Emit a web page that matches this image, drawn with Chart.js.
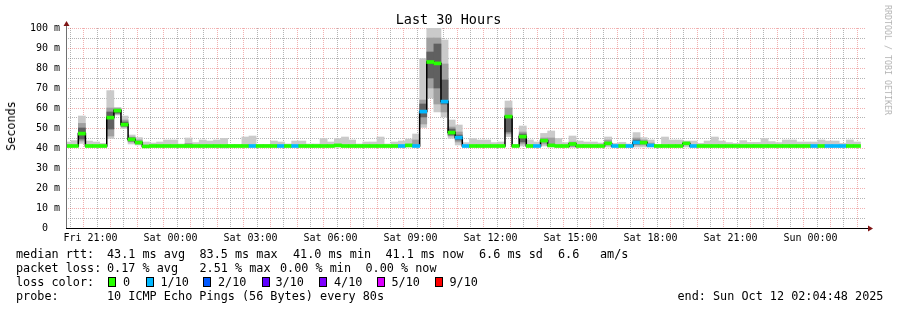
<!DOCTYPE html>
<html>
<head>
<meta charset="utf-8">
<script src="https://cdn.jsdelivr.net/npm/chart.js@4.4.1/dist/chart.umd.min.js"></script>
<style>
  body { margin: 0; background: #fff; }
  #wrap { position: relative; width: 897px; height: 310px; overflow: hidden; font-family: "DejaVu Sans Mono", monospace; color: #000; }
  #chart { position: absolute; left: 0; top: 0; }
  .t { position: absolute; white-space: pre; font-size: 11.8px; line-height: 14px; }
  .box { position: absolute; width: 8px; height: 10px; box-sizing: border-box; border: 1px solid #000; }
</style>
</head>
<body>
<div id="wrap">
  <canvas id="chart" width="897" height="310"></canvas>
  <div class="t" style="left:0;top:12px;width:897px;text-align:center;font-size:13.5px;">Last 30 Hours</div>
  <div class="t" style="left:11px;top:126px;transform:translate(-50%,-50%) rotate(-90deg);">Seconds</div>
  <div class="t" style="left:888px;top:60px;transform:translate(-50%,-50%) rotate(90deg);font-size:8.3px;color:#b4b4b4;">RRDTOOL / TOBI OETIKER</div>
  <div id="legend"></div>
</div>
<script>
// 16 分钟一个统计桶，时间以 Fri 21:00 为 0（分钟）
const binStart = -59.5;
const binMinutes = 16;
const axisStart = -55.2;
const axisEnd = 1744.8;

// 中位数 rtt (ms)
const medianRtt = [
  41, 41, 47.2, 41, 41, 41, 55.2, 58.7, 51.7, 44.3,
  42.7, 40.8, 41, 41, 41, 41, 41, 41, 41, 41,
  41, 41, 41, 41, 41, 41, 41, 41, 41, 41,
  41, 41, 41, 41, 41, 41, 41, 41, 41.3, 41,
  41, 41, 41, 41, 41, 41, 41, 41, 41.3, 41,
  58.2, 83, 82.3, 63.2, 47.7, 45.2, 41, 41, 41, 41,
  41, 41, 55.7, 41, 45.7, 41, 41, 43.7, 41.3, 41,
  41, 42, 41, 41, 41, 41, 42.3, 41, 41, 41,
  42.8, 42.7, 41.3, 41, 41, 41, 41, 42.3, 41, 41,
  41, 41, 41, 41, 41, 41, 41, 41, 41, 41,
  41, 41, 41, 41, 41, 41, 41, 41, 41, 41, 41, 41
];
// 丢包等级 (0 = 0, 1 = 1/10)
const lossLevel = [
  0, 0, 0, 0, 0, 0, 0, 0, 0, 0,
  0, 0, 0, 0, 0, 0, 0, 0, 0, 0,
  0, 0, 0, 0, 0, 0, 1, 0, 0, 0,
  1, 0, 1, 0, 0, 0, 0, 0, 0, 0,
  0, 0, 0, 0, 0, 0, 0, 1, 0, 1,
  1, 0, 0, 1, 0, 1, 1, 0, 0, 0,
  0, 0, 0, 0, 0, 0, 1, 0, 0, 0,
  0, 0, 0, 0, 0, 0, 0, 1, 0, 1,
  1, 0, 1, 0, 0, 0, 0, 0, 1, 0,
  0, 0, 0, 0, 0, 0, 0, 0, 0, 0,
  0, 0, 0, 0, 0, 1, 0, 1, 1, 1, 0, 0
];
// smoke 最大 / 最小值 (ms)
const smokeMax = [
  43, 43.7, 56, 43.5, 43, 42.3, 68.7, 60.3, 56, 46.5,
  45.2, 43, 42.5, 43, 44, 44, 42, 45, 42.7, 44,
  43.5, 44, 44.8, 41.8, 41.8, 45.5, 46, 41.8, 41.8, 43.5,
  43, 42, 43.5, 43.5, 42, 42, 44.7, 43, 44.7, 45.5,
  44, 42, 43, 43, 45.5, 42, 43, 43.5, 44.5, 47,
  84.7, 100, 100, 94, 54, 51.5, 42.7, 44.7, 44, 44,
  42.7, 43, 63.5, 41.8, 51, 44, 43, 47.3, 48.5, 44.8,
  42.7, 46, 43.5, 43, 43, 42.5, 45.5, 42.3, 42.8, 42,
  47.7, 45.2, 44, 41.8, 45.5, 44, 44, 43.5, 43.5, 42.3,
  43.5, 45.5, 43.5, 42.7, 42.3, 43.7, 42.8, 42.8, 44.7, 43.2,
  42.7, 44, 44, 43, 43, 43, 44, 43.5, 43.5, 42.3, 44, 43
];
const smokeMin = [
  40.5, 40.5, 42.3, 40.5, 40.5, 40.5, 44.8, 56.5, 49.8, 42,
  41.5, 40.5, 40.5, 40.5, 40.5, 40.5, 40.5, 40.5, 40.5, 40.5,
  40.5, 40.5, 40, 40.5, 40.5, 40.5, 40.5, 40.5, 40.5, 40.5,
  40.5, 40.5, 40.5, 40.5, 40.5, 40.5, 40.5, 40.5, 40.5, 40.5,
  40.5, 40.5, 40.5, 40.5, 40.5, 40.5, 40.5, 40.5, 40.5, 40.5,
  50.3, 65, 58, 55.5, 44.8, 41.5, 40.5, 40.5, 40.5, 40.5,
  40.5, 40.5, 45.7, 40.5, 41, 40.5, 40.5, 41, 40.5, 40.5,
  40.5, 40.5, 40.5, 40.5, 40.5, 40.5, 40.5, 40.5, 40.5, 40.5,
  40.5, 40.5, 40.5, 40.5, 40.5, 40.5, 40.5, 40.5, 40.5, 40.5,
  40.5, 40.5, 40.5, 40.5, 40.5, 40.5, 40.5, 40.5, 40.5, 40.5,
  40.5, 40.5, 40.5, 40.5, 40.5, 40.5, 40.5, 40.5, 40.5, 40.5, 40.5, 40.5
];
// 较深的 smoke 区间: [桶序号, 下限, 上限]
const midBands = [
  [2, 43.5, 52.3], [6, 46, 60], [7, 57, 59.8], [8, 50.5, 54], [9, 43, 45.5], [10, 42, 44],
  [17, 40.5, 42.3], [49, 41, 44], [50, 52, 64], [51, 70, 95], [52, 62, 95], [53, 58, 82],
  [54, 46, 50.5], [55, 43, 48], [62, 47, 60], [64, 42, 48], [67, 42, 45], [68, 41, 45],
  [71, 40.5, 43], [76, 41.5, 44], [80, 41.5, 45], [81, 41.5, 44], [82, 41, 42.5]
];
const darkBands = [
  [2, 44.5, 50], [6, 49.5, 58], [7, 57.5, 59.3], [8, 51, 53], [9, 43.5, 45],
  [50, 55.5, 62], [51, 75, 88], [52, 70, 92], [53, 62, 74], [54, 46.5, 49.5],
  [55, 44, 46.5], [62, 48, 56], [64, 43, 47], [80, 42, 44]
];
const lossColors = ['#26ff00', '#00b8ff', '#0059ff', '#5e00ff', '#7e00ff', '#dd00ff', '#ff0000'];
const lossNames = ['0', '1/10', '2/10', '3/10', '4/10', '5/10', '9/10'];
const xTickMinutes = [0, 180, 360, 540, 720, 900, 1080, 1260, 1440, 1620];
const xTickLabels = ['Fri 21:00', 'Sat 00:00', 'Sat 03:00', 'Sat 06:00', 'Sat 09:00', 'Sat 12:00', 'Sat 15:00', 'Sat 18:00', 'Sat 21:00', 'Sun 00:00'];

const binTimes = medianRtt.map((_, i) => binStart + (i + 0.5) * binMinutes);
const bandData = list => list.map(b => ({ x: binTimes[b[0]], y: [b[1], b[2]] }));
const monoFont = { family: 'DejaVu Sans Mono', size: 10 };
const minorGrid = 'rgba(130,130,130,0.6)';
const majorGrid = 'rgba(224,80,80,0.45)';
const gridColor = every => c => (c.tick && Math.abs(c.tick.value % every) < 1e-6 ? majorGrid : minorGrid);

const barBase = { type: 'bar', grouped: false, barPercentage: 1, categoryPercentage: 1, borderWidth: 0, clip: 0 };

const axisArrows = {
  id: 'axisArrows',
  afterDatasetsDraw(chart) {
    const { ctx, chartArea: a } = chart;
    const x0 = a.left + 0.5, y0 = a.bottom + 0.5;
    ctx.save();
    ctx.lineWidth = 1;
    ctx.strokeStyle = '#707070';
    ctx.beginPath(); ctx.moveTo(x0, a.bottom); ctx.lineTo(x0, a.top - 5); ctx.stroke();
    ctx.strokeStyle = '#000';
    ctx.beginPath(); ctx.moveTo(a.left, y0); ctx.lineTo(a.right + 4, y0); ctx.stroke();
    ctx.fillStyle = '#7f1515';
    ctx.beginPath(); ctx.moveTo(x0 - 3, a.top - 2); ctx.lineTo(x0 + 3, a.top - 2); ctx.lineTo(x0, a.top - 7); ctx.closePath(); ctx.fill();
    ctx.beginPath(); ctx.moveTo(a.right + 2, y0 - 3); ctx.lineTo(a.right + 2, y0 + 3); ctx.lineTo(a.right + 7, y0); ctx.closePath(); ctx.fill();
    ctx.restore();
  }
};

new Chart(document.getElementById('chart'), {
  type: 'bar',
  data: {
    datasets: [
      Object.assign({}, barBase, {
        order: 0,
        data: medianRtt.map((m, i) => ({ x: binTimes[i], y: [m - 0.75, m + 0.75] })),
        backgroundColor: lossLevel.map(l => lossColors[l])
      }),
      {
        type: 'line', order: 1, clip: 0,
        data: medianRtt.map((m, i) => ({ x: binTimes[i], y: m })),
        stepped: 'middle', borderColor: '#000', borderWidth: 1.5, pointRadius: 0
      },
      Object.assign({}, barBase, { order: 2, data: bandData(darkBands), backgroundColor: '#606060' }),
      Object.assign({}, barBase, { order: 3, data: bandData(midBands), backgroundColor: '#a0a0a0' }),
      Object.assign({}, barBase, {
        order: 4,
        data: smokeMax.map((h, i) => ({ x: binTimes[i], y: [smokeMin[i], h] })),
        backgroundColor: '#cacaca'
      })
    ]
  },
  options: {
    responsive: false,
    devicePixelRatio: 1,
    animation: false,
    layout: { padding: { left: 0, top: 28, right: 31, bottom: 0 } },
    plugins: { legend: { display: false }, tooltip: { enabled: false } },
    scales: {
      x: {
        type: 'linear', min: axisStart, max: axisEnd, offset: false,
        afterBuildTicks: s => {
          const t = [];
          for (let m = Math.ceil(s.min / 30) * 30; m <= s.max; m += 30) t.push({ value: m });
          s.ticks = t;
        },
        afterFit: s => { s.height = 82; },
        grid: { drawTicks: false, color: gridColor(60) },
        border: { display: false, dash: [1, 1] },
        ticks: {
          autoSkip: false, maxRotation: 0, padding: 4, color: '#000', font: monoFont,
          callback: v => { const k = xTickMinutes.indexOf(v); return k >= 0 ? xTickLabels[k] : ''; }
        }
      },
      y: {
        min: 0, max: 100,
        afterFit: s => { s.width = 66; },
        grid: { drawTicks: false, color: gridColor(10) },
        border: { display: false, dash: [1, 1] },
        ticks: {
          autoSkip: false, stepSize: 5, maxTicksLimit: 1000, padding: 6, color: '#000', font: monoFont,
          callback: v => (v % 10 !== 0 ? '' : v === 0 ? '0  ' : v + ' m')
        }
      }
    }
  },
  plugins: [axisArrows]
});

// 底部图例文字
const legendRows = [
  [247, [[16, 'median rtt:'], [107, '43.1 ms avg'], [199.5, '83.5 ms max'], [293, '41.0 ms min'], [385.5, '41.1 ms now'], [479, '6.6 ms sd'], [558, '6.6'], [600, 'am/s']]],
  [261, [[16, 'packet loss:'], [107, '0.17 % avg'], [199.5, '2.51 % max'], [280, '0.00 % min'], [365.5, '0.00 % now']]],
  [275, [[16, 'loss color:']]],
  [289, [[16, 'probe:'], [107, '10 ICMP Echo Pings (56 Bytes) every 80s'], [677.5, 'end: Sun Oct 12 02:04:48 2025']]]
];
const boxX = [108.3, 145.7, 203.3, 261.7, 319.3, 377.3, 435.3];
const boxLabelX = [123, 160.5, 218, 275.5, 334, 391.5, 449.5];
const legend = document.getElementById('legend');
legendRows.forEach(([top, items]) => {
  items.forEach(([x, txt]) => {
    const d = document.createElement('div');
    d.className = 't';
    d.style.left = x + 'px';
    d.style.top = top + 'px';
    d.textContent = txt;
    legend.appendChild(d);
  });
});
lossColors.forEach((c, i) => {
  const b = document.createElement('div');
  b.className = 'box';
  b.style.left = boxX[i] + 'px';
  b.style.top = '277px';
  b.style.background = c;
  legend.appendChild(b);
  const d = document.createElement('div');
  d.className = 't';
  d.style.left = boxLabelX[i] + 'px';
  d.style.top = '275px';
  d.textContent = lossNames[i];
  legend.appendChild(d);
});
</script>
</body>
</html>
